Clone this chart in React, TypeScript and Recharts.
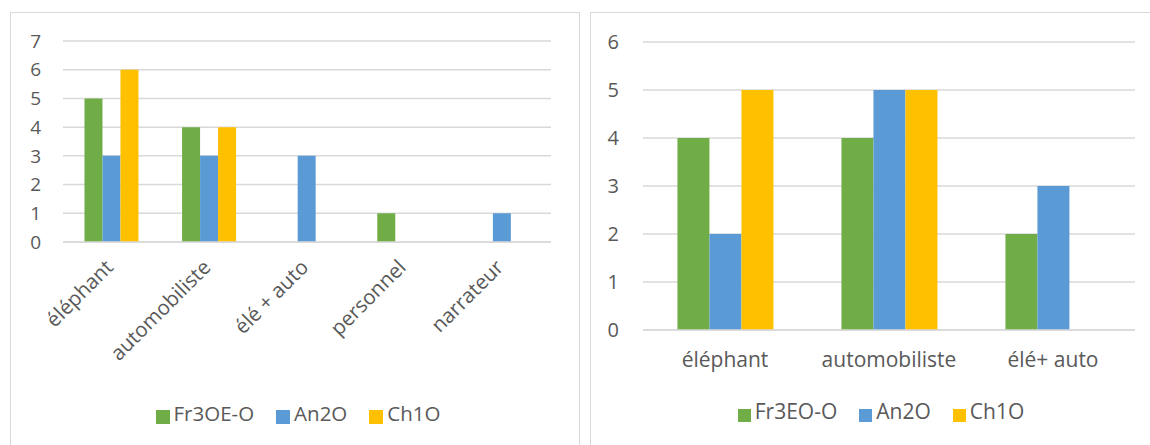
import React from 'react';
import { BarChart, Bar, XAxis, YAxis, CartesianGrid, Legend } from 'recharts';

const leftCategories = ['éléphant', 'automobiliste', 'élé + auto', 'personnel', 'narrateur'];
const leftFr = [5, 4, 0, 1, 0];
const leftAn = [3, 3, 3, 0, 1];
const leftCh = [6, 4, 0, 0, 0];
const leftTicks = [0, 1, 2, 3, 4, 5, 6, 7];

const rightCategories = ['éléphant', 'automobiliste', 'élé+ auto'];
const rightFr = [4, 4, 2];
const rightAn = [2, 5, 3];
const rightCh = [5, 5, 0];
const rightTicks = [0, 1, 2, 3, 4, 5, 6];

const GREEN = '#70AD47';
const BLUE = '#5B9BD5';
const YELLOW = '#FFC000';
const GRID = '#d9d9d9';
const TEXT = '#595959';
const FONT = '"Open Sans", sans-serif';

// keys s1..s3 so the legend keeps series order when sorted by dataKey
const leftData = leftCategories.map((name, i) => ({ name, s1: leftFr[i], s2: leftAn[i], s3: leftCh[i] }));
const rightData = rightCategories.map((name, i) => ({ name, s1: rightFr[i], s2: rightAn[i], s3: rightCh[i] }));

const RotatedTick = (props: any) => {
    const { x, y, payload } = props;
    return (
        <g transform={`translate(${x - 8},${y + 8})`}>
            <text transform="rotate(-45)" textAnchor="end" dy={15} fill={TEXT} fontSize={20.5} fontFamily={FONT}>
                {payload.value}
            </text>
        </g>
    );
};

const legendText = (size: number) => (value: string) => (
    <span style={{ color: TEXT, fontSize: size, fontFamily: FONT, marginRight: 12 }}>{value}</span>
);

const boxStyle = (left: number, width: number): React.CSSProperties => ({
    position: 'absolute',
    left,
    top: 12,
    width,
    height: 440,
    border: `1px solid ${GRID}`,
    boxSizing: 'border-box',
    background: '#fff',
});

export default function App() {
    return (
        <div style={{ position: 'absolute', left: 0, top: 0, width: 1150, height: 445, background: '#fff', overflow: 'hidden' }}>
            <div style={boxStyle(10, 570)}>
                <BarChart width={568} height={430} data={leftData} barCategoryGap="22%" barGap={0}
                    margin={{ top: 28, right: 28, left: 12, bottom: 0 }}>
                    <CartesianGrid vertical={false} stroke={GRID} strokeWidth={1.5} />
                    <XAxis dataKey="name" height={201} axisLine={{ stroke: GRID, strokeWidth: 1.5 }} tickLine={false}
                        interval={0} tick={<RotatedTick />} />
                    <YAxis width={40} domain={[0, 7]} ticks={leftTicks} axisLine={false} tickLine={false}
                        tick={{ fill: TEXT, fontSize: 19, fontFamily: FONT }} tickMargin={16} />
                    <Legend verticalAlign="middle" iconType="square" iconSize={14} itemSorter="dataKey"
                        formatter={legendText(20.5)} wrapperStyle={{ top: 386, left: 14, width: 568 }} />
                    <Bar dataKey="s1" name="Fr3OE-O" fill={GREEN} isAnimationActive={false} />
                    <Bar dataKey="s2" name="An2O" fill={BLUE} isAnimationActive={false} />
                    <Bar dataKey="s3" name="Ch1O" fill={YELLOW} isAnimationActive={false} />
                </BarChart>
            </div>
            <div style={boxStyle(590, 580)}>
                <BarChart width={578} height={430} data={rightData} barCategoryGap="21%" barGap={0}
                    margin={{ top: 29, right: 34, left: 12, bottom: 0 }}>
                    <CartesianGrid vertical={false} stroke={GRID} strokeWidth={1.5} />
                    <XAxis dataKey="name" height={113} axisLine={{ stroke: GRID, strokeWidth: 1.5 }} tickLine={false}
                        interval={0} tick={{ fill: TEXT, fontSize: 21, fontFamily: FONT }} tickMargin={16} />
                    <YAxis width={40} domain={[0, 6]} ticks={rightTicks} axisLine={false} tickLine={false}
                        tick={{ fill: TEXT, fontSize: 20, fontFamily: FONT }} tickMargin={18} />
                    <Legend verticalAlign="middle" iconType="square" iconSize={13} itemSorter="dataKey"
                        formatter={legendText(21)} wrapperStyle={{ top: 384, left: 12, width: 578 }} />
                    <Bar dataKey="s1" name="Fr3EO-O" fill={GREEN} isAnimationActive={false} />
                    <Bar dataKey="s2" name="An2O" fill={BLUE} isAnimationActive={false} />
                    <Bar dataKey="s3" name="Ch1O" fill={YELLOW} isAnimationActive={false} />
                </BarChart>
            </div>
        </div>
    );
}
